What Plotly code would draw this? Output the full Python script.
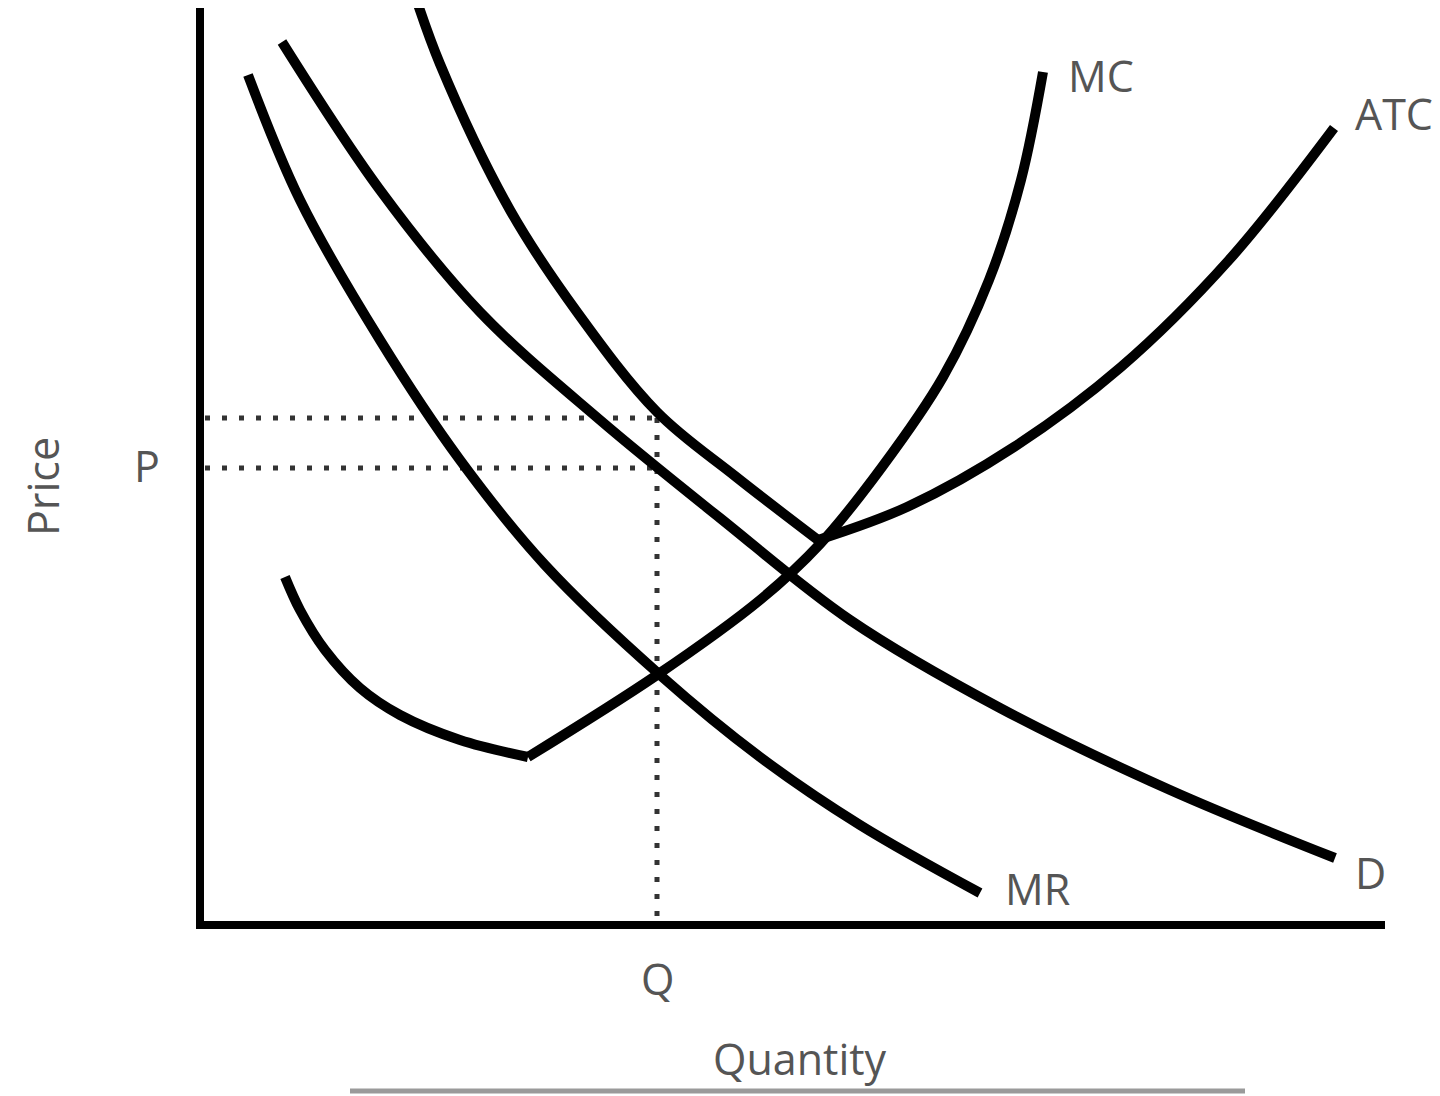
import plotly.graph_objects as go

# Data coordinates: Quantity (x) and Price (y) in arbitrary diagram units
d_q = [8.2, 18, 28, 40, 52, 65, 80, 97, 113.5]
d_p = [88.3, 73.5, 61.3, 50.5, 40.7, 30.5, 21.7, 13.5, 6.7]

mr_q = [4.8, 10, 18, 26, 34.5, 46, 56, 66, 78]
mr_p = [85, 72.5, 58.5, 46.5, 36, 25, 16.8, 10, 3.2]

atc_left_q = [21, 24, 31, 37.7, 45.7, 53.5, 61.8]
atc_left_p = [94.5, 86.1, 71.5, 61.3, 51.3, 44.9, 38.5]
atc_right_q = [61.8, 70.7, 81.4, 92.1, 102.9, 113.4]
atc_right_p = [38.5, 41.8, 47.8, 55.8, 66.5, 79.7]

mc_left_q = [8.5, 10, 12.5, 16, 20, 26, 32.8]
mc_left_p = [34.8, 31.5, 27.5, 23.7, 21, 18.5, 16.8]
mc_right_q = [32.8, 45.7, 56, 62, 68.2, 74.3, 78.9, 82.1, 84.3]
mc_right_p = [16.8, 25, 32.5, 38.1, 45.8, 54.8, 64.5, 74.5, 85.3]

P_level = 45.7
P_upper = 50.7
Q_level = 45.7

axis_q_max = 118.5
axis_p_max = 96

labels = ["MC", "ATC", "MR", "D", "P", "Q", "Quantity", "Price"]

fig = go.Figure()

curve = dict(color="black", width=10)

def add_curve(x, y):
    fig.add_trace(go.Scatter(x=x, y=y, mode="lines", line=dict(curve, shape="spline", smoothing=1.0),
                             hoverinfo="skip", showlegend=False))

# dotted guide lines
dot = dict(color="#333333", width=5, dash="5px,12px")
fig.add_trace(go.Scatter(x=[0.5, Q_level], y=[P_upper, P_upper], mode="lines", line=dot, showlegend=False))
fig.add_trace(go.Scatter(x=[0.5, Q_level], y=[P_level, P_level], mode="lines", line=dot, showlegend=False))
fig.add_trace(go.Scatter(x=[Q_level, Q_level], y=[P_upper, 0], mode="lines", line=dot, showlegend=False))

add_curve(d_q, d_p)
add_curve(mr_q, mr_p)
add_curve(atc_left_q, atc_left_p)
add_curve(atc_right_q, atc_right_p)
add_curve(mc_left_q, mc_left_p)
add_curve(mc_right_q, mc_right_p)

# axes
fig.add_trace(go.Scatter(x=[0, 0, axis_q_max], y=[axis_p_max, 0, 0], mode="lines",
                         line=dict(color="black", width=8), showlegend=False))

txt = dict(family="Open Sans, sans-serif", size=43, color="#555555")
ann = [
    dict(x=86.6, y=85.0, text=labels[0], xanchor="left"),
    dict(x=115.3, y=81.2, text=labels[1], xanchor="left"),
    dict(x=80.3, y=3.7, text=labels[2], xanchor="left"),
    dict(x=115.3, y=5.3, text=labels[3], xanchor="left"),
    dict(x=-5.3, y=46.0, text=labels[4], xanchor="center"),
    dict(x=Q_level, y=-5.3, text=labels[5], xanchor="center"),
    dict(x=60, y=-13.3, text=labels[6], xanchor="center"),
    dict(x=-15.8, y=43.8, text=labels[7], xanchor="center", textangle=-90),
]
for a in ann:
    fig.add_annotation(showarrow=False, font=txt, yanchor="middle", **a)

# grey rule at bottom
fig.add_shape(type="line", x0=15, x1=104.5, y0=-16.6, y1=-16.6, line=dict(color="#9a9a9a", width=5))

# page body has an 8px margin: figure is sized and ranged to compensate
fig.update_layout(
    width=1432, height=1088,
    margin=dict(l=0, r=0, t=0, b=0),
    paper_bgcolor="white", plot_bgcolor="white",
    xaxis=dict(range=[-19.2, 124.0], visible=False, fixedrange=True),
    yaxis=dict(range=[-17.1, 91.7], visible=False, fixedrange=True),
    showlegend=False,
)

fig.write_html("out.html")
